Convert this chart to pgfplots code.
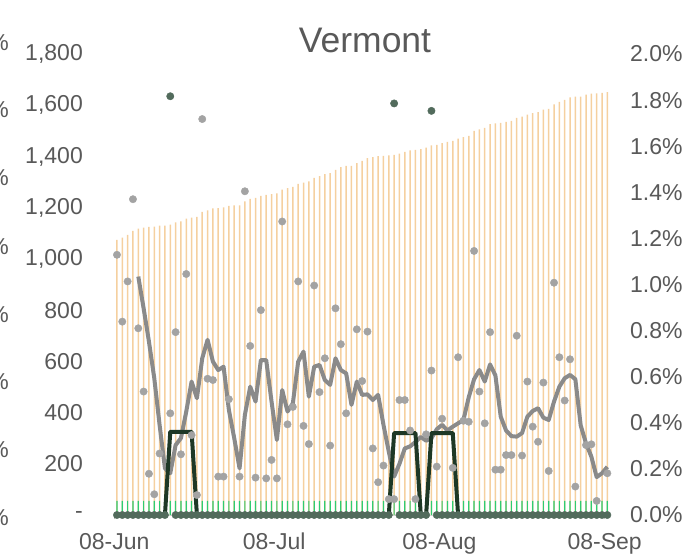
\documentclass[border=0pt]{standalone}
\usepackage{pgfplots}
\usepackage{pgfplotstable}
\pgfplotsset{compat=1.18}
\usepackage{fontspec}
\setmainfont{Liberation Sans}
\definecolor{txt}{HTML}{595959}
\definecolor{barorange}{HTML}{F5D09F}
\definecolor{bargreen}{HTML}{2ECC71}
\definecolor{graydot}{HTML}{A3A3A3}
\definecolor{grayline}{HTML}{8A8A8A}
\definecolor{darkline}{HTML}{1E3826}
\definecolor{darkdot}{HTML}{526B5C}
\pgfplotstableread{
i cum green daily ma dl dd
0 1074 55 1016 nan nan 0
1 1083 55 755 nan nan 0
2 1094 55 912 nan nan 0
3 1109 55 1233 nan nan 0
4 1118 55 729 931 0 0
5 1122 55 482 807 0 0
6 1125 55 161 677 0 0
7 1126 55 81 534 0 0
8 1130 55 240 351 0 0
9 1130 55 nan 182 0 0
10 1134 55 397 163 325 1635
11 1143 55 714 273 325 0
12 1146 55 237 300 325 0
13 1157 55 941 404 325 0
14 1161 55 312 521 325 0
15 1164 55 78 456 0 0
16 1184 55 1546 612 0 0
17 1189 55 532 684 0 0
18 1197 55 527 599 0 0
19 1198 55 150 566 0 0
20 1201 55 150 579 0 0
21 1207 55 452 410 0 0
22 1209 55 nan 300 0 0
23 1209 55 150 182 0 0
24 1225 55 1264 391 0 0
25 1234 55 660 501 0 0
26 1238 55 146 443 0 0
27 1246 55 800 605 0 0
28 1250 55 143 605 0 0
29 1253 55 215 443 0 0
30 1256 55 143 293 0 0
31 1270 55 1146 488 0 0
32 1276 55 354 404 0 0
33 1281 55 422 436 0 0
34 1293 55 912 599 0 0
35 1298 55 348 638 0 0
36 1303 55 277 462 0 0
37 1316 55 896 579 0 0
38 1323 55 480 586 0 0
39 1331 55 612 527 0 0
40 1335 55 271 508 0 0
41 1348 55 807 612 0 0
42 1358 55 667 566 0 0
43 1363 55 397 553 0 0
44 1363 55 nan 430 0 0
45 1374 55 725 521 0 0
46 1383 55 523 469 0 0
47 1393 55 716 471 0 0
48 1397 55 260 449 0 0
49 1401 55 128 469 0 0
50 1402 55 193 352 0 0
51 1404 55 62 247 0 0
52 1406 55 62 150 320 1607
53 1411 55 449 200 320 0
54 1418 55 449 260 320 0
55 1424 55 330 268 320 0
56 1426 55 62 285 320 0
57 1429 55 nan 305 0 0
58 1434 55 315 290 0 0
59 1443 55 564 300 320 1578
60 1445 55 189 335 320 0
61 1452 55 376 352 320 0
62 1457 55 nan 330 320 0
63 1461 55 184 345 320 0
64 1470 55 616 358 0 0
65 1475 55 368 371 0 0
66 1480 55 364 460 0 0
67 1500 55 1031 530 0 0
68 1506 55 482 566 0 0
69 1512 55 358 521 0 0
70 1526 55 714 588 0 0
71 1529 55 177 545 0 0
72 1531 55 177 384 0 0
73 1535 55 234 330 0 0
74 1539 55 234 308 0 0
75 1551 55 700 306 0 0
76 1555 55 232 320 0 0
77 1563 55 521 384 0 0
78 1569 55 345 406 0 0
79 1573 55 286 417 0 0
80 1583 55 517 380 0 0
81 1586 55 172 371 0 0
82 1603 55 907 443 0 0
83 1613 55 616 501 0 0
84 1621 55 447 534 0 0
85 1631 55 608 547 0 0
86 1634 55 111 530 0 0
87 1634 55 nan 350 0 0
88 1641 55 273 280 0 0
89 1645 55 276 228 0 0
90 1646 55 55 148 0 0
91 1648 55 nan 163 0 0
92 1651 55 163 188 0 0
}\datatable
\begin{document}
\begin{tikzpicture}
\useasboundingbox (0,0) rectangle (693pt,557pt);
\begin{axis}[
  at={(114.3pt,42pt)}, anchor=south west,
  scale only axis, width=495.7pt, height=461pt,
  xmin=-0.5, xmax=92.5, ymin=0, ymax=1800,
  clip=false,
  axis x line*=bottom, axis y line*=left,
  y axis line style={draw=none},
  x axis line style={draw=black!15, line width=0.8pt},
  xtick={-0.5,29.5,60.5,91.5},
  xticklabels={08-Jun,08-Jul,08-Aug,08-Sep},
  ytick={0,200,...,1800},
  yticklabels={{-\hspace{14pt}},200,400,600,800,{1,000},{1,200},{1,400},{1,600},{1,800}},
  tick align=outside, major tick length=4pt,
  xtick style={draw=black!25, line width=0.8pt},
  ytick style={draw=none},
  ticklabel style={font=\fontsize{23}{27}\selectfont, text=txt},
  yticklabel style={inner sep=0pt, anchor=east, xshift=-27.3pt},
  xticklabel style={inner sep=0pt, anchor=north, yshift=-14pt},
]
\addplot[ybar, bar width=1.5pt, bar shift=0pt, fill=barorange, draw=none] table[x=i, y=cum] {\datatable};
\addplot[ybar, bar width=1.2pt, bar shift=0pt, fill=bargreen, draw=none] table[x=i, y=green] {\datatable};
\addplot[color=grayline, line width=4pt, line join=round, mark=none] table[x=i, y=ma] {\datatable};
\addplot[color=darkline, line width=4pt, line join=round, mark=none] table[x=i, y=dl] {\datatable};
\addplot[color=graydot, only marks, mark=*, mark size=3.7pt] table[x=i, y=daily] {\datatable};
\addplot[color=darkdot, only marks, mark=*, mark size=3.7pt] table[x=i, y=dd] {\datatable};
\end{axis}
\begin{axis}[
  at={(114.3pt,42pt)}, anchor=south west,
  scale only axis, width=495.7pt, height=461pt,
  xmin=-0.5, xmax=92.5, ymin=0, ymax=2,
  axis x line=none, axis y line*=right,
  y axis line style={draw=none},
  ytick={0,0.2,...,2.0},
  yticklabels={0.0\%,0.2\%,0.4\%,0.6\%,0.8\%,1.0\%,1.2\%,1.4\%,1.6\%,1.8\%,2.0\%},
  ytick style={draw=none},
  ticklabel style={font=\fontsize{23}{27}\selectfont, text=txt},
  yticklabel style={inner sep=0pt, anchor=west, xshift=20pt},
]
\addplot[draw=none] coordinates {(0,0)};
\end{axis}
\node[anchor=base, font=\fontsize{35.5}{40}\selectfont, text=txt, inner sep=0pt] at (365pt,504pt) {Vermont};
\foreach \yy in {514,447,379,310,242,175,107,39} {
  \node[anchor=east, font=\fontsize{23}{27}\selectfont, text=txt, inner sep=0pt] at (9pt,\yy pt) {0.0\%};
}
\end{tikzpicture}
\end{document}
